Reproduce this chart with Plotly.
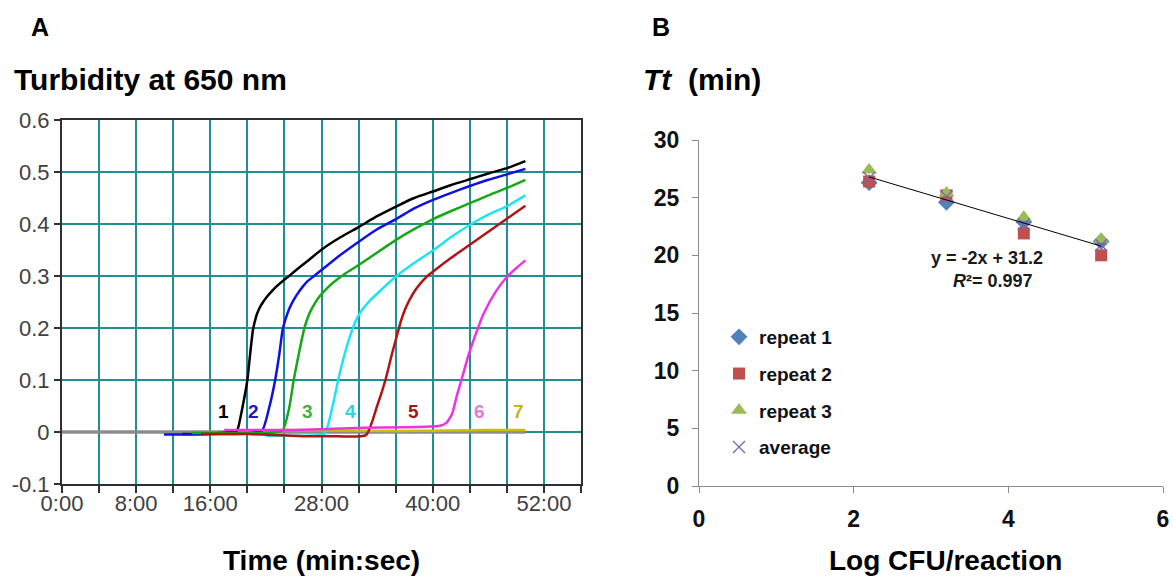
import plotly.graph_objects as go

# ---------------- Panel A data (time in minutes, turbidity at 650 nm) ----------------
t1 = [13.0, 15.0, 17.0, 18.5, 18.9, 19.5, 20.0, 20.3, 20.6, 20.8, 21.0, 21.3, 21.7, 22.2, 22.7, 23.2, 23.8, 24.5, 25.3, 26.5, 28.1, 30.0, 32.1, 34.0, 36.1, 38.0, 40.1, 42.0, 44.0, 46.0, 48.1, 50.0]
v1 = [-0.004, -0.004, -0.002, 0.0, 0.003, 0.05, 0.1, 0.15, 0.196, 0.212, 0.225, 0.238, 0.25, 0.262, 0.272, 0.281, 0.29, 0.30, 0.312, 0.329, 0.352, 0.374, 0.395, 0.415, 0.434, 0.45, 0.463, 0.475, 0.486, 0.497, 0.508, 0.521]

t2 = [11.0, 14.0, 17.0, 20.0, 21.6, 22.4, 23.0, 23.45, 23.8, 24.1, 24.5, 25.0, 25.5, 26.0, 26.5, 27.2, 28.1, 30.0, 32.1, 34.0, 36.1, 38.0, 40.1, 42.0, 44.0, 46.0, 48.1, 50.0]
v2 = [-0.005, -0.005, -0.004, -0.003, 0.003, 0.05, 0.1, 0.15, 0.196, 0.216, 0.236, 0.254, 0.268, 0.28, 0.29, 0.30, 0.313, 0.34, 0.367, 0.39, 0.41, 0.43, 0.447, 0.46, 0.473, 0.485, 0.496, 0.506]

t3 = [14.0, 18.0, 22.0, 23.8, 24.5, 25.0, 25.55, 26.1, 26.4, 26.8, 27.3, 27.8, 28.4, 29.3, 30.5, 32.1, 34.0, 36.1, 38.0, 40.1, 42.0, 44.0, 46.0, 48.1, 50.0]
v3 = [-0.002, -0.002, -0.002, 0.003, 0.045, 0.1, 0.15, 0.196, 0.214, 0.232, 0.248, 0.261, 0.273, 0.288, 0.304, 0.322, 0.345, 0.37, 0.39, 0.41, 0.425, 0.44, 0.455, 0.47, 0.485]

t4 = [22.0, 25.0, 28.3, 29.2, 29.8, 30.5, 31.3, 31.7, 32.2, 32.7, 33.3, 34.6, 36.1, 38.0, 40.1, 42.0, 44.0, 46.0, 48.1, 50.0]
v4 = [-0.007, -0.007, -0.004, 0.05, 0.1, 0.15, 0.196, 0.214, 0.23, 0.242, 0.254, 0.276, 0.30, 0.325, 0.35, 0.375, 0.398, 0.418, 0.435, 0.455]

t5 = [15.0, 20.0, 26.0, 29.0, 32.8, 34.0, 34.9, 35.6, 36.3, 36.6, 37.0, 37.5, 38.2, 39.3, 40.5, 42.0, 44.0, 46.0, 48.0, 50.0]
v5 = [-0.004, -0.004, -0.008, -0.008, -0.006, 0.05, 0.1, 0.15, 0.196, 0.215, 0.235, 0.254, 0.275, 0.298, 0.315, 0.335, 0.36, 0.385, 0.41, 0.435]

t6 = [17.5, 25.0, 32.5, 37.0, 40.8, 41.5, 42.1, 42.6, 43.1, 43.9, 44.8, 45.5, 46.8, 48.1, 49.0, 50.0]
v6 = [0.004, 0.004, 0.008, 0.009, 0.012, 0.018, 0.035, 0.07, 0.1, 0.15, 0.196, 0.228, 0.27, 0.30, 0.315, 0.33]

t7 = [24.0, 30.0, 36.0, 42.0, 46.0, 50.0]
v7 = [0.004, 0.003, 0.002, 0.003, 0.004, 0.004]

t_neg = [0.0, 10.0, 20.0, 30.0, 40.0, 50.0]
v_neg = [0.0, 0.0, 0.0, 0.0, 0.0, 0.0]

curve_labels = ["1", "2", "3", "4", "5", "6", "7"]
label_x = [17.4, 20.7, 26.5, 31.1, 37.9, 45.0, 49.3]
label_y = [0.04, 0.04, 0.04, 0.04, 0.04, 0.04, 0.04]

x_tickvals = [0, 4, 8, 12, 16, 20, 24, 28, 32, 36, 40, 44, 48, 52, 56]
x_ticktext = ["0:00", "", "8:00", "", "16:00", "", "", "28:00", "", "", "40:00", "", "", "52:00", ""]
y_tickvals = [-0.1, 0.0, 0.1, 0.2, 0.3, 0.4, 0.5, 0.6]
y_ticktext = ["-0.1", "0", "0.1", "0.2", "0.3", "0.4", "0.5", "0.6"]

# ---------------- Panel B data ----------------
log_cfu = [2.2, 3.2, 4.2, 5.2]
repeat1 = [26.3, 24.6, 22.9, 21.2]
repeat2 = [26.4, 25.2, 21.9, 20.0]
repeat3 = [27.4, 25.4, 23.3, 21.4]
average = [26.7, 25.1, 22.7, 20.9]
trend_x = [2.2, 5.2]
trend_y = [26.8, 20.8]

FONT = "Liberation Sans, Arial, sans-serif"

fig = go.Figure()

curves = [
    (t_neg, v_neg, "#8c8c8c", 3.5),
    (t7, v7, "#c8c000", 2.5),
    (t1, v1, "#000000", 2.5),
    (t2, v2, "#1010e0", 2.5),
    (t3, v3, "#16a816", 2.5),
    (t4, v4, "#1ee4f0", 2.5),
    (t5, v5, "#b01414", 2.5),
    (t6, v6, "#f032e0", 2.5),
]
for tx, vy, col, w in curves:
    fig.add_trace(go.Scatter(x=tx, y=vy, mode="lines", line=dict(color=col, width=w, shape="spline", smoothing=0.5),
                             showlegend=False, xaxis="x", yaxis="y", hoverinfo="skip"))

label_colors = ["#000000", "#1a1ac8", "#3cb33c", "#2ad4e4", "#a01818", "#e07be0", "#c8b414"]
for lab, lx, ly, lc in zip(curve_labels, label_x, label_y, label_colors):
    fig.add_annotation(x=lx, y=ly, xref="x", yref="y", text=lab, showarrow=False,
                       font=dict(family=FONT, size=19, color=lc, weight="bold"))

# Panel B traces
fig.add_trace(go.Scatter(x=log_cfu, y=repeat1, mode="markers", name="repeat 1", legendgroup="r1",
                         marker=dict(symbol="diamond", size=13, color="#4f81bd"), xaxis="x2", yaxis="y2"))
fig.add_trace(go.Scatter(x=log_cfu, y=repeat2, mode="markers", name="repeat 2", legendgroup="r2",
                         marker=dict(symbol="square", size=12, color="#c0504d"), xaxis="x2", yaxis="y2"))
fig.add_trace(go.Scatter(x=log_cfu, y=repeat3, mode="markers", name="repeat 3", legendgroup="r3",
                         marker=dict(symbol="triangle-up", size=14, color="#9bbb59"), xaxis="x2", yaxis="y2"))
fig.add_trace(go.Scatter(x=log_cfu, y=average, mode="markers", name="average", legendgroup="r4",
                         marker=dict(symbol="x-thin", size=12, color="#8064a2", line=dict(color="#8064a2", width=1.3)),
                         xaxis="x2", yaxis="y2"))
fig.add_trace(go.Scatter(x=trend_x, y=trend_y, mode="lines", line=dict(color="#000000", width=1),
                         showlegend=False, xaxis="x2", yaxis="y2", hoverinfo="skip"))

fig.add_annotation(x=3.72, y=19.8, xref="x2", yref="y2", text="y = -2x + 31.2", showarrow=False,
                   font=dict(family=FONT, size=18, color="#1a1a1a", weight="bold"))
fig.add_annotation(x=3.8, y=17.8, xref="x2", yref="y2", text="<i>R</i>²= 0.997", showarrow=False,
                   font=dict(family=FONT, size=18, color="#1a1a1a", weight="bold"))

# Titles / labels (pixel positions converted to paper fractions)
W, H = 1173, 579
def px(x):
    return x / W
def py(y):
    return 1 - y / H

texts = [
    (40, 27, "A", 25, "center"),
    (12, 80, "Turbidity at 650 nm", 30, "left"),
    (661, 27, "B", 25, "center"),
    (641, 80, "<i>Tt</i>  (min)", 30, "left"),
    (321, 560, "Time (min:sec)", 28, "center"),
    (945, 560, "Log CFU/reaction", 28, "center"),
]
for x, y, txt, sz, al in texts:
    fig.add_annotation(x=px(x), y=py(y), xref="paper", yref="paper", text=txt, showarrow=False,
                       xanchor=al, yanchor="middle",
                       font=dict(family=FONT, size=sz, color="#000000", weight="bold"))

fig.update_layout(
    width=W, height=H,
    margin=dict(l=0, r=0, t=0, b=0),
    paper_bgcolor="white", plot_bgcolor="white",
    font=dict(family=FONT),
    xaxis=dict(domain=[px(62), px(581)], range=[0, 56], tickvals=x_tickvals, ticktext=x_ticktext,
               showgrid=True, gridcolor="#1f8f94", gridwidth=2, zeroline=False,
               showline=True, linecolor="#303030", linewidth=2, mirror=True,
               ticks="outside", ticklen=7, tickwidth=1.5, tickcolor="#303030", automargin=False,
               ticklabelstandoff=-8,
               tickfont=dict(family=FONT, size=22, color="#404040"), anchor="y"),
    yaxis=dict(domain=[py(484), py(120)], range=[-0.1, 0.6], tickvals=y_tickvals, ticktext=y_ticktext,
               showgrid=True, gridcolor="#1f8f94", gridwidth=2, zeroline=False,
               showline=True, linecolor="#303030", linewidth=2, mirror=True,
               ticks="outside", ticklen=6, tickwidth=1.5, tickcolor="#303030", automargin=False,
               tickfont=dict(family=FONT, size=22, color="#404040"), anchor="x"),
    xaxis2=dict(domain=[px(699), px(1163)], range=[0, 6], tickvals=[0, 2, 4, 6],
                showgrid=False, zeroline=False, showline=True, linecolor="#8a8a8a", linewidth=1,
                ticks="outside", ticklen=6, tickcolor="#8a8a8a", automargin=False,
                ticklabelstandoff=6,
                tickfont=dict(family=FONT, size=23, color="#111111", weight="bold"), anchor="y2"),
    yaxis2=dict(domain=[py(486), py(140)], range=[0, 30], tickvals=[0, 5, 10, 15, 20, 25, 30],
                showgrid=False, zeroline=False, showline=True, linecolor="#8a8a8a", linewidth=1,
                ticks="outside", ticklen=6, tickcolor="#8a8a8a", automargin=False,
                ticklabelstandoff=8,
                tickfont=dict(family=FONT, size=23, color="#111111", weight="bold"), anchor="x2"),
    legend=dict(x=px(719), y=py(318), xanchor="left", yanchor="top", bgcolor="rgba(0,0,0,0)",
                font=dict(family=FONT, size=19, color="#111111", weight="bold"),
                tracegroupgap=9, traceorder="grouped", itemwidth=30),
    showlegend=True,
)

fig.write_html("out.html")
